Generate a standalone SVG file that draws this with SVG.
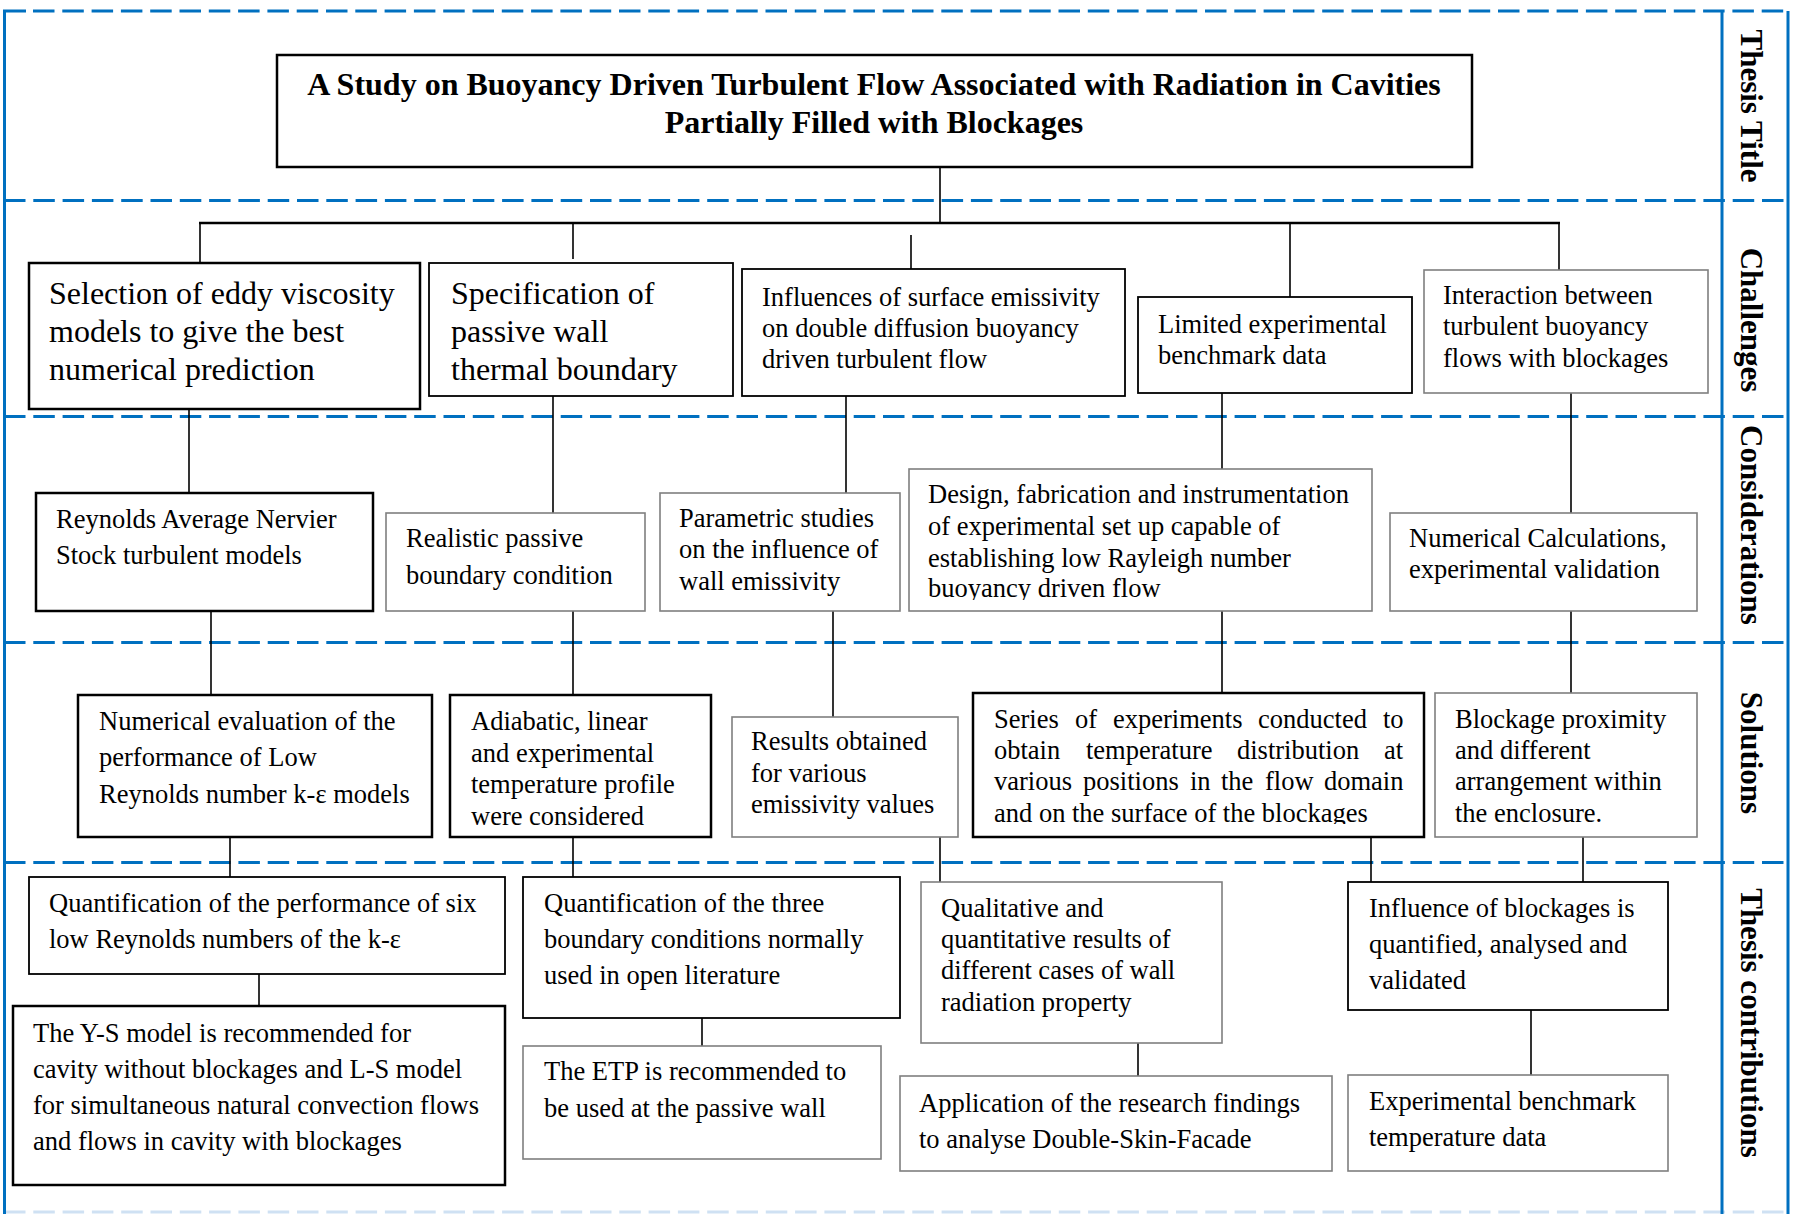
<svg xmlns="http://www.w3.org/2000/svg" width="1795" height="1214" viewBox="0 0 1795 1214">
<style>
text{font-family:"Liberation Serif","Times New Roman",serif;fill:#000}
.t{font-size:26.5px}
.tl{font-size:32px}
.ttl{font-size:32px;font-weight:bold}
.side{font-size:31px;font-weight:bold}
.bk{fill:#fff;stroke:#000;stroke-width:2.5}
.bm{fill:#fff;stroke:#000;stroke-width:1.8}
.gr{fill:#fff;stroke:#7f7f7f;stroke-width:1.6}
.c{stroke:#000;stroke-width:1.6;fill:none}
.bus{stroke:#000;stroke-width:2.6;fill:none}
.fr{stroke:#0070C0;stroke-width:3;fill:none}
.dash{stroke:#0070C0;stroke-width:3;stroke-dasharray:21.5 7.8;fill:none}
</style>
<defs>
<clipPath id="clipC4"><rect x="909" y="469" width="463" height="131"/></clipPath>
<clipPath id="clipS4"><rect x="973" y="693" width="451" height="131"/></clipPath>
</defs>
<rect width="1795" height="1214" fill="#fff"/>

<g id="frame">
<line class="dash" x1="33" y1="11" x2="1788" y2="11"/>
<line class="dash" x1="4" y1="200.5" x2="1788" y2="200.5"/>
<line class="dash" x1="4" y1="416.5" x2="1788" y2="416.5"/>
<line class="dash" x1="4" y1="642.5" x2="1788" y2="642.5"/>
<line class="dash" x1="4" y1="862.5" x2="1788" y2="862.5"/>
<line x1="4" y1="1212" x2="1788" y2="1212" stroke="#cfe1f3" stroke-width="3" stroke-dasharray="21.5 7.8"/>
<polyline class="fr" points="4.5,1214 4.5,11 26,11"/>
<line class="fr" x1="1722" y1="11" x2="1722" y2="1214"/>
<line class="fr" x1="1788" y1="11" x2="1788" y2="1214" stroke-width="2.5"/>
</g>

<g id="band-labels">
<text class="side" text-anchor="middle" transform="translate(1741,106) rotate(90)">Thesis Title</text>
<text class="side" text-anchor="middle" transform="translate(1741,320) rotate(90)">Challenges</text>
<text class="side" text-anchor="middle" transform="translate(1741,525) rotate(90)">Considerations</text>
<text class="side" text-anchor="middle" transform="translate(1741,753) rotate(90)">Solutions</text>
<text class="side" text-anchor="middle" transform="translate(1741,1023) rotate(90)">Thesis contributions</text>
</g>

<g id="connectors">
<line class="c" x1="940" y1="167" x2="940" y2="223"/>
<line class="bus" x1="199" y1="223" x2="1560" y2="223"/>
<line class="c" x1="200" y1="223" x2="200" y2="263"/>
<line class="c" x1="573" y1="223" x2="573" y2="259"/>
<line class="c" x1="911" y1="235" x2="911" y2="269"/>
<line class="c" x1="1290" y1="223" x2="1290" y2="297"/>
<line class="c" x1="1559" y1="223" x2="1559" y2="270"/>
<line class="c" x1="189" y1="409" x2="189" y2="493"/>
<line class="c" x1="553" y1="396" x2="553" y2="513"/>
<line class="c" x1="846" y1="396" x2="846" y2="493"/>
<line class="c" x1="1222" y1="393" x2="1222" y2="469"/>
<line class="c" x1="1571" y1="393" x2="1571" y2="513"/>
<line class="c" x1="211" y1="611" x2="211" y2="695"/>
<line class="c" x1="573" y1="611" x2="573" y2="695"/>
<line class="c" x1="833" y1="611" x2="833" y2="717"/>
<line class="c" x1="1222" y1="611" x2="1222" y2="693"/>
<line class="c" x1="1571" y1="611" x2="1571" y2="693"/>
<line class="c" x1="230" y1="837" x2="230" y2="877"/>
<line class="c" x1="573" y1="837" x2="573" y2="877"/>
<line class="c" x1="940" y1="837" x2="940" y2="882"/>
<line class="c" x1="1371" y1="837" x2="1371" y2="882"/>
<line class="c" x1="1583" y1="837" x2="1583" y2="882"/>
<line class="c" x1="259" y1="974" x2="259" y2="1006"/>
<line class="c" x1="702" y1="1018" x2="702" y2="1046"/>
<line class="c" x1="1138" y1="1043" x2="1138" y2="1076"/>
<line class="c" x1="1531" y1="1010" x2="1531" y2="1075"/>
</g>

<g id="title">
<rect class="bk" x="277" y="55" width="1195" height="112"/>
<text class="ttl" x="874" y="95" text-anchor="middle">A Study on Buoyancy Driven Turbulent Flow Associated with Radiation in Cavities</text>
<text class="ttl" x="874" y="133" text-anchor="middle">Partially Filled with Blockages</text>
</g>

<g id="ch1">
<rect class="bk" x="29" y="263" width="391" height="146"/>
<text class="tl" x="49" y="304">Selection of eddy viscosity</text>
<text class="tl" x="49" y="342">models to give the best</text>
<text class="tl" x="49" y="380">numerical prediction</text>
</g>
<g id="ch2">
<rect class="bm" x="429" y="263" width="304" height="133"/>
<text class="tl" x="451" y="304">Specification of</text>
<text class="tl" x="451" y="342">passive wall</text>
<text class="tl" x="451" y="380">thermal boundary</text>
</g>
<g id="ch3">
<rect class="bm" x="742" y="269" width="383" height="127"/>
<text class="t" x="762" y="306">Influences of surface emissivity</text>
<text class="t" x="762" y="337">on double diffusion buoyancy</text>
<text class="t" x="762" y="368">driven turbulent flow</text>
</g>
<g id="ch4">
<rect class="bm" x="1138" y="297" width="274" height="96"/>
<text class="t" x="1158" y="333">Limited experimental</text>
<text class="t" x="1158" y="364">benchmark data</text>
</g>
<g id="ch5">
<rect class="gr" x="1424" y="270" width="284" height="123"/>
<text class="t" x="1443" y="304">Interaction between</text>
<text class="t" x="1443" y="335">turbulent buoyancy</text>
<text class="t" x="1443" y="367">flows with blockages</text>
</g>

<g id="co1">
<rect class="bk" x="36" y="493" width="337" height="118"/>
<text class="t" x="56" y="528">Reynolds Average Nervier</text>
<text class="t" x="56" y="564">Stock turbulent models</text>
</g>
<g id="co2">
<rect class="gr" x="386" y="513" width="259" height="98"/>
<text class="t" x="406" y="547">Realistic passive</text>
<text class="t" x="406" y="584">boundary condition</text>
</g>
<g id="co3">
<rect class="gr" x="660" y="493" width="240" height="118"/>
<text class="t" x="679" y="527">Parametric studies</text>
<text class="t" x="679" y="558">on the influence of</text>
<text class="t" x="679" y="590">wall emissivity</text>
</g>
<g id="co4">
<rect class="gr" x="909" y="469" width="463" height="142"/>
<g clip-path="url(#clipC4)">
<text class="t" x="928" y="503">Design, fabrication and instrumentation</text>
<text class="t" x="928" y="535">of experimental set up capable of</text>
<text class="t" x="928" y="567">establishing low Rayleigh number</text>
<text class="t" x="928" y="597">buoyancy driven flow</text>
</g>
</g>
<g id="co5">
<rect class="gr" x="1390" y="513" width="307" height="98"/>
<text class="t" x="1409" y="547">Numerical Calculations,</text>
<text class="t" x="1409" y="578">experimental validation</text>
</g>

<g id="so1">
<rect class="bk" x="78" y="695" width="354" height="142"/>
<text class="t" x="99" y="730">Numerical evaluation of the</text>
<text class="t" x="99" y="766">performance of Low</text>
<text class="t" x="99" y="803">Reynolds number k-ε models</text>
</g>
<g id="so2">
<rect class="bk" x="450" y="695" width="261" height="142"/>
<text class="t" x="471" y="730">Adiabatic, linear</text>
<text class="t" x="471" y="762">and experimental</text>
<text class="t" x="471" y="793">temperature profile</text>
<text class="t" x="471" y="825">were considered</text>
</g>
<g id="so3">
<rect class="gr" x="732" y="717" width="226" height="120"/>
<text class="t" x="751" y="750">Results obtained</text>
<text class="t" x="751" y="782">for various</text>
<text class="t" x="751" y="813">emissivity values</text>
</g>
<g id="so4">
<rect class="bk" x="973" y="693" width="451" height="144"/>
<g clip-path="url(#clipS4)">
<text class="t" y="728"><tspan x="994">Series</tspan><tspan x="1075">of</tspan><tspan x="1113">experiments</tspan><tspan x="1258">conducted</tspan><tspan x="1383">to</tspan></text>
<text class="t" y="759"><tspan x="994">obtain</tspan><tspan x="1086">temperature</tspan><tspan x="1237">distribution</tspan><tspan x="1384">at</tspan></text>
<text class="t" y="790"><tspan x="994">various</tspan><tspan x="1083">positions</tspan><tspan x="1190">in</tspan><tspan x="1221">the</tspan><tspan x="1265">flow</tspan><tspan x="1324">domain</tspan></text>
<text class="t" x="994" y="822">and on the surface of the blockages</text>
</g>
</g>
<g id="so5">
<rect class="gr" x="1435" y="693" width="262" height="144"/>
<text class="t" x="1455" y="728">Blockage proximity</text>
<text class="t" x="1455" y="759">and different</text>
<text class="t" x="1455" y="790">arrangement within</text>
<text class="t" x="1455" y="822">the enclosure.</text>
</g>

<g id="tc1">
<rect class="bm" x="29" y="877" width="476" height="97"/>
<text class="t" x="49" y="912">Quantification of the performance of six</text>
<text class="t" x="49" y="948">low Reynolds numbers of the k-ε</text>
</g>
<g id="tc1b">
<rect class="bk" x="13" y="1006" width="492" height="179"/>
<text class="t" x="33" y="1042">The Y-S model is recommended for</text>
<text class="t" x="33" y="1078">cavity without blockages and L-S model</text>
<text class="t" x="33" y="1114">for simultaneous natural convection flows</text>
<text class="t" x="33" y="1150">and flows in cavity with blockages</text>
</g>
<g id="tc2">
<rect class="bm" x="523" y="877" width="377" height="141"/>
<text class="t" x="544" y="912">Quantification of the three</text>
<text class="t" x="544" y="948">boundary conditions normally</text>
<text class="t" x="544" y="984">used in open literature</text>
</g>
<g id="tc2b">
<rect class="gr" x="523" y="1046" width="358" height="113"/>
<text class="t" x="544" y="1080">The ETP is recommended to</text>
<text class="t" x="544" y="1117">be used at the passive wall</text>
</g>
<g id="tc3">
<rect class="gr" x="921" y="882" width="301" height="161"/>
<text class="t" x="941" y="917">Qualitative and</text>
<text class="t" x="941" y="948">quantitative results of</text>
<text class="t" x="941" y="979">different cases of wall</text>
<text class="t" x="941" y="1011">radiation property</text>
</g>
<g id="tc3b">
<rect class="gr" x="900" y="1076" width="432" height="95"/>
<text class="t" x="919" y="1112">Application of the research findings</text>
<text class="t" x="919" y="1148">to analyse Double-Skin-Facade</text>
</g>
<g id="tc4">
<rect class="bm" x="1348" y="882" width="320" height="128"/>
<text class="t" x="1369" y="917">Influence of blockages is</text>
<text class="t" x="1369" y="953">quantified, analysed and</text>
<text class="t" x="1369" y="989">validated</text>
</g>
<g id="tc4b">
<rect class="gr" x="1348" y="1075" width="320" height="96"/>
<text class="t" x="1369" y="1110">Experimental benchmark</text>
<text class="t" x="1369" y="1146">temperature data</text>
</g>
</svg>
